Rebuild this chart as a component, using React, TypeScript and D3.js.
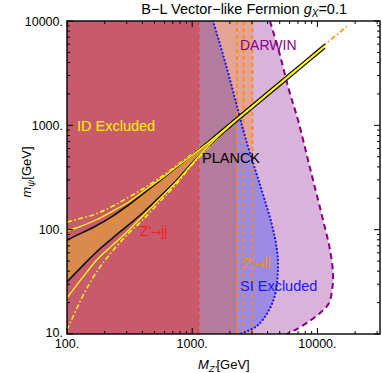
import React from 'react';
import * as d3 from 'd3';

// ---------- data (GeV) ----------
const xTickValues = [100, 1000, 10000];
const xTickLabels = ['100.', '1000.', '10000.'];
const yTickValues = [10, 100, 1000, 10000];
const yTickLabels = ['10.', '100.', '1000.', '10000.'];

// shared M_Z' grid for the relic (PLANCK) curves
const relicMZ = [100, 130, 170, 230, 300, 400, 550, 750, 1000, 1400, 2000, 3000, 5000, 8000, 11500];
const upperBlack = [79.5, 92.6, 108.4, 134.2, 167.6, 218.4, 293.7, 396.4, 522.5, 731.5, 1045, 1568, 2613, 4180, 6009];
const lowerBlack = [31.5, 43.7, 60.4, 82.6, 107.7, 143.6, 206.5, 297.4, 438, 655, 957, 1436, 2393, 3828, 5503];
const upperYellow = [97, 108, 123.7, 149.8, 179, 228.4, 300.3, 400.5, 520, 707.7, 1011, 1517, 2528, 4044, 5813];
const lowerYellow = [22.1, 33.5, 50.1, 70.7, 94.4, 134.4, 197.5, 287.6, 428.5, 665, 989, 1483, 2473, 3956, 5687];
const upperYellowDD = [118, 128.8, 141.3, 167.3, 199.8, 244, 314, 409.5, 534, 731.5, 1020];
const lowerYellowDD = [10.9, 21.6, 38.4, 62, 88.4, 123, 184.8, 275.3, 419, 641, 970];

// resonance line (orange dash-dot)
const resMZ = [160, 1000, 17500];
const resM = [83, 517, 9050];

// SI excluded boundary (blue dotted)
const siMZ = [1466, 1862, 2323, 2692, 3483, 4339, 4753, 4843, 4584, 4030, 3356, 2793, 2410];
const siM = [10000, 3785, 1403, 723, 268, 111, 63.8, 43, 23.7, 16.3, 12.2, 10.7, 10];

// DARWIN reach (purple dashed)
const darwinMZ = [4180, 5023, 5929, 6998, 8413, 9226, 11090, 12620, 13340, 13100, 12390, 10500, 8413, 6622, 5715];
const darwinM = [10000, 4721, 2183, 1125, 466, 299, 124, 63.8, 36.7, 26.4, 19.8, 15.9, 13.0, 10.9, 10];

// collider limits
const jjLimit = 1130;
const llLimits = [2280, 2570, 3030];

const FONT = 'Liberation Sans, Arial, Helvetica, sans-serif';
const ARROW_FONT = 'DejaVu Sans, sans-serif';

export default function App() {
  const L = 67, R = 380, T = 21, B = 334;
  const x = d3.scaleLog().domain([100, Math.pow(10, 4.5)]).range([L, R]);
  const y = d3.scaleLog().domain([10, 10000]).range([B, T]);

  const zipPts = (xs: number[], ys: number[]) => ys.map((v, i) => [xs[i], v] as [number, number]);

  const lineMono = d3.line<[number, number]>().x(d => x(d[0])).y(d => y(d[1])).curve(d3.curveMonotoneX);
  const lineCR = d3.line<[number, number]>().x(d => x(d[0])).y(d => y(d[1])).curve(d3.curveCatmullRom.alpha(0.5));

  const siLine = lineCR(zipPts(siMZ, siM)) as string;
  const siPoly = siLine + `L${x(100)},${y(10)}L${x(100)},${y(10000)}Z`;
  const darwinLine = lineCR(zipPts(darwinMZ, darwinM)) as string;
  const darwinPoly = darwinLine + `L${x(100)},${y(10)}L${x(100)},${y(10000)}Z`;

  const bandArea = d3.area<number>()
    .x((_, i) => x(relicMZ[i]))
    .y0(d => y(d))
    .y1((_, i) => y(upperBlack[i]))
    .curve(d3.curveMonotoneX)(lowerBlack) as string;

  const xt = x.ticks();
  const yt = y.ticks();
  const isMajor = (t: number) => Math.abs(Math.log10(t) - Math.round(Math.log10(t))) < 1e-9;

  const colors = {
    red: '#C85A6E',
    mauve: '#B47C9C',
    salmon: '#E4A596',
    blue: '#9D8AE3',
    lilac: '#D9B3DA',
    band: '#D98B4F',
  };

  return (
    <svg width={382} height={373} style={{ position: 'absolute', left: 0, top: 0, background: '#fff' }} fontFamily={FONT}>
      <defs>
        <clipPath id="plotClip"><rect x={L} y={T} width={R - L} height={B - T} /></clipPath>
        <clipPath id="mauveClip"><rect x={L} y={T} width={x(llLimits[0]) - L} height={B - T} /></clipPath>
      </defs>
      <g clipPath="url(#plotClip)">
        <path d={darwinPoly} fill={colors.lilac} />
        <rect x={L} y={T} width={x(llLimits[2]) - L} height={B - T} fill={colors.salmon} />
        <path d={siPoly} fill={colors.blue} />
        <g clipPath="url(#mauveClip)"><path d={siPoly} fill={colors.mauve} /></g>
        <rect x={L} y={T} width={x(jjLimit) - L} height={B - T} fill={colors.red} />

        {/* boundaries */}
        <line x1={x(jjLimit)} x2={x(jjLimit)} y1={T} y2={B} stroke="#FF3A3A" strokeWidth={1.3} strokeDasharray="4,3" />
        {llLimits.map((v, i) => (
          <line key={i} x1={x(v)} x2={x(v)} y1={T} y2={B} stroke="#FF8A00" strokeWidth={1.6} strokeDasharray="4,3" />
        ))}
        <path d={siLine} fill="none" stroke="#1414FF" strokeWidth={2.2} strokeDasharray="0.1,3.6" strokeLinecap="round" />
        <path d={darwinLine} fill="none" stroke="#800080" strokeWidth={2} strokeDasharray="6,4" />

        {/* relic band */}
        <path d={bandArea} fill={colors.band} />
        <path d={lineMono(zipPts(resMZ, resM)) as string} fill="none" stroke="#FF8A00" strokeWidth={1.6} strokeDasharray="5,2.5,1.5,2.5" />
        <path d={lineMono(zipPts(relicMZ, upperYellowDD)) as string} fill="none" stroke="#FFFF00" strokeWidth={1.5} strokeDasharray="5,2.5,1.5,2.5" />
        <path d={lineMono(zipPts(relicMZ, lowerYellowDD)) as string} fill="none" stroke="#FFFF00" strokeWidth={1.5} strokeDasharray="5,2.5,1.5,2.5" />
        <path d={lineMono(zipPts(relicMZ, upperBlack)) as string} fill="none" stroke="#111" strokeWidth={1.6} />
        <path d={lineMono(zipPts(relicMZ, lowerBlack)) as string} fill="none" stroke="#111" strokeWidth={1.6} />
        <path d={lineMono(zipPts(relicMZ, upperYellow)) as string} fill="none" stroke="#FFFF00" strokeWidth={1.3} />
        <path d={lineMono(zipPts(relicMZ, lowerYellow)) as string} fill="none" stroke="#FFFF00" strokeWidth={1.3} />
      </g>

      {/* frame and ticks */}
      <rect x={L} y={T} width={R - L} height={B - T} fill="none" stroke="#000" strokeWidth={1.4} />
      {xt.map((t, i) => {
        const len = isMajor(t) ? 6 : 3;
        return (
          <g key={'x' + i}>
            <line x1={x(t)} x2={x(t)} y1={B} y2={B - len} stroke="#000" strokeWidth={1} />
            <line x1={x(t)} x2={x(t)} y1={T} y2={T + len} stroke="#000" strokeWidth={1} />
          </g>
        );
      })}
      {yt.map((t, i) => {
        const len = isMajor(t) ? 6 : 3;
        return (
          <g key={'y' + i}>
            <line x1={L} x2={L + len} y1={y(t)} y2={y(t)} stroke="#000" strokeWidth={1} />
            <line x1={R} x2={R - len} y1={y(t)} y2={y(t)} stroke="#000" strokeWidth={1} />
          </g>
        );
      })}
      {xTickValues.map((t, i) => (
        <text key={'xl' + i} x={x(t)} y={348} textAnchor="middle" fontSize={12.5} fill="#000">{xTickLabels[i]}</text>
      ))}
      {yTickValues.map((t, i) => (
        <text key={'yl' + i} x={63} y={y(t) + (i === 0 ? 2.5 : 4.5)} textAnchor="end" fontSize={12.5} fill="#000">{yTickLabels[i]}</text>
      ))}

      {/* axis labels */}
      <text x={198} y={369} fontSize={13} fill="#000">
        <tspan fontStyle="italic">M</tspan>
        <tspan fontSize={9.5} dy={3} fontStyle="italic">Z'</tspan>
        <tspan dy={-3}>[GeV]</tspan>
      </text>
      <text transform="translate(31,172) rotate(-90)" textAnchor="middle" fontSize={13} fill="#000">
        <tspan fontStyle="italic">m</tspan>
        <tspan fontSize={9.5} dy={3} fontStyle="italic">ψ</tspan>
        <tspan dy={-3}>[GeV]</tspan>
      </text>

      {/* title */}
      <text x={347} y={14} textAnchor="end" fontSize={14.5} fill="#000">
        B−L Vector−like Fermion <tspan fontStyle="italic">g</tspan>
        <tspan fontSize={10} dy={3} fontStyle="italic">X</tspan>
        <tspan dy={-3}>=0.1</tspan>
      </text>

      {/* region labels */}
      <text x={77} y={131} fontSize={14.5} fill="#FFF200">ID Excluded</text>
      <text x={202} y={163} fontSize={14.5} fill="#000">PLANCK</text>
      <text x={240} y={50} fontSize={14} fill="#8B008B">DARWIN</text>
      <text x={140} y={236} fontSize={14} fill="#FF1A1A">Z'<tspan fontFamily={ARROW_FONT} fontSize={12}>→</tspan>jj</text>
      <text x={243} y={268} fontSize={14} fill="#FF8A00">Z'<tspan fontFamily={ARROW_FONT} fontSize={12}>→</tspan>ll</text>
      <text x={240} y={291} fontSize={14.5} fill="#1A1AFF">SI Excluded</text>
    </svg>
  );
}
